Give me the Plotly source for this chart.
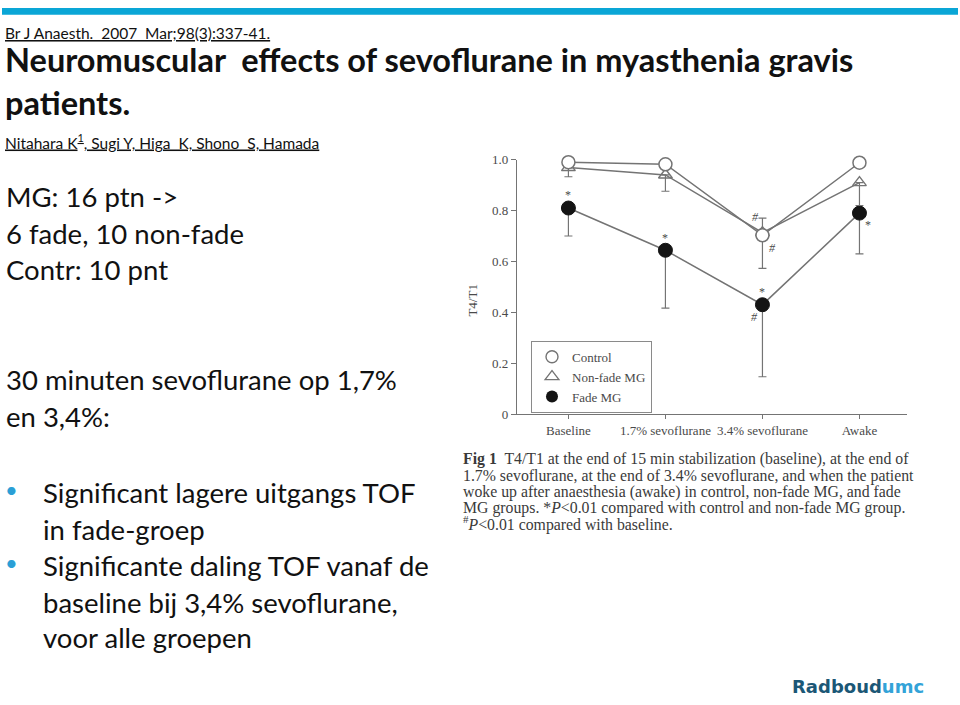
import plotly.graph_objects as go

# ---- chart data ----
categories = ["Baseline", "1.7% sevoflurane", "3.4% sevoflurane", "Awake"]
control = [0.99, 0.982, 0.703, 0.988]
control_err_up = [0.0, 0.0, 0.067, 0.0]
nonfade = [0.969, 0.94, 0.713, 0.91]
nonfade_err_down = [0.036, 0.064, 0.14, 0.09]
fade = [0.81, 0.644, 0.43, 0.79]
fade_err_down = [0.11, 0.227, 0.283, 0.16]
ytick_vals = [0, 0.2, 0.4, 0.6, 0.8, 1.0]
ytick_text = ["0", "0.2", "0.4", "0.6", "0.8", "1.0"]

W, H = 960, 705
def px(x): return x / W
def py(y): return 1 - y / H

SERIF = "Liberation Serif, Times New Roman, serif"
SANS = "Lato, Noto Sans, sans-serif"
LINE = "#747474"
TXT = "#4a4a4a"

fig = go.Figure()
xi = list(range(len(categories)))

fig.add_trace(go.Scatter(
    x=xi, y=fade, mode="lines+markers", showlegend=False, cliponaxis=False,
    line=dict(color=LINE, width=1.5),
    marker=dict(symbol="circle", size=14, color="#141414", line=dict(color="#141414", width=1)),
    error_y=dict(type="data", symmetric=False, array=[0]*4, arrayminus=fade_err_down,
                 color=LINE, thickness=1.2, width=4)))
fig.add_trace(go.Scatter(
    x=xi, y=nonfade, mode="lines+markers", showlegend=False, cliponaxis=False,
    line=dict(color=LINE, width=1.5),
    marker=dict(symbol="triangle-up-open", size=12, color=LINE, line=dict(width=1.4)),
    error_y=dict(type="data", symmetric=False, array=[0]*4, arrayminus=nonfade_err_down,
                 color=LINE, thickness=1.2, width=4)))
fig.add_trace(go.Scatter(
    x=xi, y=control, mode="lines+markers", showlegend=False, cliponaxis=False,
    line=dict(color=LINE, width=1.5),
    marker=dict(symbol="circle", size=13, color="white", line=dict(color=LINE, width=1.5)),
    error_y=dict(type="data", symmetric=False, array=control_err_up, arrayminus=[0]*4,
                 color=LINE, thickness=1.2, width=4)))

# legend-only entries (markers only, as in the figure)
fig.add_trace(go.Scatter(x=[None], y=[None], mode="markers", name="Control",
    marker=dict(symbol="circle", size=12, color="white", line=dict(color=LINE, width=1.4))))
fig.add_trace(go.Scatter(x=[None], y=[None], mode="markers", name="Non-fade MG",
    marker=dict(symbol="triangle-up-open", size=12, color=LINE, line=dict(width=1.3))))
fig.add_trace(go.Scatter(x=[None], y=[None], mode="markers", name="Fade MG",
    marker=dict(symbol="circle", size=12, color="#141414")))

# significance markers, placed relative to the data values
sig = []
for i in range(3):
    sig.append(dict(x=i, y=fade[i] + 0.05, text="*"))
sig.append(dict(x=3 + 0.09, y=fade[3] - 0.045, text="*"))
sig.append(dict(x=2 - 0.08, y=fade[2] - 0.05, text="<i>#</i>"))
sig.append(dict(x=2 - 0.07, y=control[2] + 0.07, text="<i>#</i>"))
sig.append(dict(x=2 + 0.10, y=control[2] - 0.05, text="<i>#</i>"))
for s in sig:
    fig.add_annotation(x=s["x"], y=s["y"], xref="x", yref="y", text=s["text"],
                       showarrow=False, font=dict(family=SERIF, size=12, color=TXT))

fig.update_xaxes(
    domain=[px(517), px(907)], range=[-0.53, 3.49],
    tickvals=xi, ticktext=categories, showline=True, linecolor=LINE, linewidth=1.3,
    ticks="outside", ticklen=4, tickcolor=LINE, showgrid=False, zeroline=False,
    tickfont=dict(family=SERIF, size=13, color=TXT))
fig.update_yaxes(
    domain=[py(416), py(156)], range=[0, 1.0],
    tickvals=ytick_vals, ticktext=ytick_text, showline=True, linecolor=LINE, linewidth=1.3,
    ticks="outside", ticklen=5, tickcolor=LINE, showgrid=False, zeroline=False,
    tickfont=dict(family=SERIF, size=13, color=TXT))

fig.add_annotation(x=px(473), y=py(300), xref="paper", yref="paper", text="T4/T1",
                   textangle=-90, showarrow=False, font=dict(family=SERIF, size=13, color=TXT))

# ---- slide text ----
def txt(x, y, text, size, color="#111111", family=SANS, xanchor="left"):
    fig.add_annotation(x=px(x), y=py(y), xref="paper", yref="paper", text=text,
                       showarrow=False, xanchor=xanchor, yanchor="middle", align="left",
                       font=dict(family=family, size=size, color=color))

txt(3, 27, "<u>Br J Anaesth.  2007  Mar;98(3):337-41.</u>", 15.5)
txt(3, 53.5, "<b>Neuromuscular  effects of sevoflurane in myasthenia gravis</b>", 32.5)
txt(3, 98, "<b>patients.</b>", 32.5)
txt(3, 137, "<u>Nitahara K<sup>1</sup>, Sugi Y, Higa  K, Shono  S, Hamada</u>", 15.5)

body_lines = ["MG: 16 ptn ->", "6 fade, 10 non-fade", "Contr: 10 pnt"]
for t, y in zip(body_lines, [193.5, 231, 268.5]):
    txt(4, y, t, 27.5)
for t, y in zip(["30 minuten sevoflurane op 1,7%", "en 3,4%:"], [381, 418.5]):
    txt(4, y, t, 27.5)

bullet_lines = ["Significant lagere uitgangs TOF", "in fade-groep",
                "Significante daling TOF vanaf de", "baseline bij 3,4% sevoflurane,",
                "voor alle groepen"]
for t, y in zip(bullet_lines, [496, 533.5, 571, 608.5, 644.5]):
    txt(41, y, t, 27.5)
for y in [493, 568]:
    txt(11.5, y, "•", 22, color="#2a9fd6", xanchor="center")

caption = [
    "<b>Fig 1</b>  T4/T1 at the end of 15 min stabilization (baseline), at the end of",
    "1.7% sevoflurane, at the end of 3.4% sevoflurane, and when the patient",
    "woke up after anaesthesia (awake) in control, non-fade MG, and fade",
    "MG groups. *<i>P</i>&lt;0.01 compared with control and non-fade MG group.",
    "<sup>#</sup><i>P</i>&lt;0.01 compared with baseline.",
]
for t, y in zip(caption, [462, 479, 495.5, 512, 528]):
    txt(461, y, t, 15.8, color="#3a3a3a", family=SERIF)

fig.add_annotation(x=px(790), y=py(694.5), xref="paper", yref="paper",
                   text="<b><span style='color:#1b5776'>Radboud</span><span style='color:#33a3d8'>umc</span></b>",
                   showarrow=False, xanchor="left", yanchor="middle",
                   font=dict(family="DejaVu Sans, sans-serif", size=18))

fig.update_layout(
    width=W, height=H, margin=dict(l=0, r=0, t=0, b=0),
    paper_bgcolor="white", plot_bgcolor="white",
    showlegend=True,
    legend=dict(x=px(531), y=py(341), xanchor="left", yanchor="top",
                bordercolor="#8a8a8a", borderwidth=1, bgcolor="white",
                font=dict(family=SERIF, size=13, color=TXT),
                itemwidth=30, tracegroupgap=0),
    shapes=[dict(type="rect", xref="paper", yref="paper", x0=px(2), x1=px(958),
                 y0=py(8), y1=py(1), fillcolor="#0aa6d6", line=dict(width=0))],
)

post = (
    "document.documentElement.style.margin='0';"
    "document.documentElement.style.overflow='hidden';"
    "document.body.style.margin='0';document.body.style.padding='0';"
    "document.body.style.overflow='hidden';"
    "var g=document.querySelector('.plotly-graph-div');"
    "g.style.position='fixed';g.style.left='0px';g.style.top='0px';"
)
fig.write_html("out.html", config={"displayModeBar": False}, post_script=post)
